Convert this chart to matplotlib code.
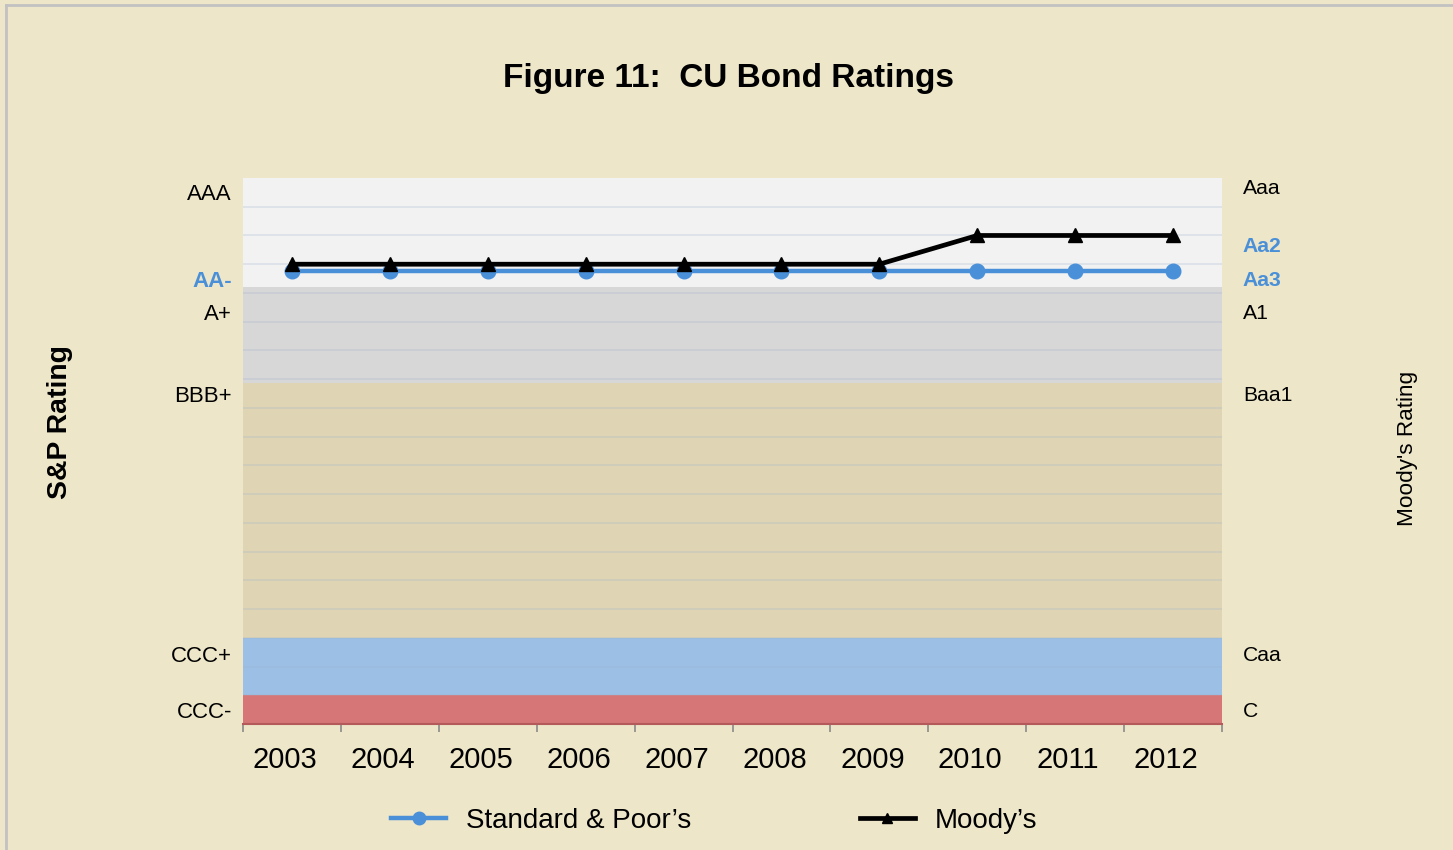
import matplotlib
matplotlib.use("Agg")
import matplotlib.pyplot as plt
from matplotlib.lines import Line2D
from matplotlib.transforms import ScaledTranslation

plt.rcParams['font.family'] = ['Liberation Sans', 'DejaVu Sans']

# ---- data ----
years = ['2003', '2004', '2005', '2006', '2007', '2008', '2009', '2010', '2011', '2012']
sp_values = [15.75, 15.75, 15.75, 15.75, 15.75, 15.75, 15.75, 15.75, 15.75, 15.75]
moodys_values = [16, 16, 16, 16, 16, 16, 16, 17, 17, 17]

sp_tick_pos = [18.52, 15.49, 14.35, 11.49, 2.45, 0.50]
sp_tick_labels = ['AAA', 'AA-', 'A+', 'BBB+', 'CCC+', 'CCC-']
sp_highlight = ['AA-']

moodys_tick_pos = [18.70, 16.68, 15.49, 14.35, 11.49, 2.45, 0.50]
moodys_tick_labels = ['Aaa', 'Aa2', 'Aa3', 'A1', 'Baa1', 'Caa', 'C']
moodys_highlight = ['Aa2', 'Aa3']

band_lows = [0, 1, 3, 11.85, 15.2]
band_highs = [1, 3, 11.85, 15.2, 19]
band_colors = ['#d77676', '#9cc0e5', '#dfd5b5', '#d7d7d7', '#f2f2f2']

# ---- styling ----
BG = '#ede6c8'
BLUE = '#4a90d9'

fig = plt.figure(figsize=(14.53, 8.5), dpi=100, facecolor=BG)
W, H = 1453, 850
L, R, T, B = 243, 1222, 178, 724
ax = fig.add_axes([L / W, 1 - B / H, (R - L) / W, (B - T) / H])
ax.set_facecolor(BG)

for lo, hi, c in zip(band_lows, band_highs, band_colors):
    ax.axhspan(lo, hi, color=c, zorder=0, lw=0)

for g in range(1, 19):
    ax.axhline(g, color='#9fb2cc', alpha=0.28, lw=1.2, zorder=1)

x = list(range(len(years)))
ax.plot(x, sp_values, color=BLUE, lw=3.2, marker='o', markersize=10.5, zorder=3)
ax.plot(x, moodys_values, color='black', lw=3.4, marker='^', markersize=10, zorder=4)

ax.set_xlim(-0.5, len(years) - 0.5)
ax.set_ylim(0, 19)

# x ticks: marks at boundaries, labels at centres
ax.set_xticks([i - 0.5 for i in range(len(years) + 1)])
ax.set_xticklabels([])
ax.tick_params(axis='x', which='major', length=6, width=1.2, color='#8a8a8a', direction='out')
ax.set_xticks(x, minor=True)
ax.set_xticklabels(years, minor=True, fontsize=21)
ax.tick_params(axis='x', which='minor', length=0, pad=16)
for lab in ax.get_xticklabels(minor=True):
    lab.set_transform(lab.get_transform() + ScaledTranslation(-0.07, 0, fig.dpi_scale_trans))

for s in ['top', 'right', 'left']:
    ax.spines[s].set_visible(False)
ax.spines['bottom'].set_color('#b45a5a')
ax.spines['bottom'].set_linewidth(1.5)

# left labels
ax.set_yticks(sp_tick_pos)
ax.set_yticklabels(sp_tick_labels, fontsize=16)
ax.tick_params(axis='y', which='both', length=0, pad=8)
for lab in ax.get_yticklabels():
    if lab.get_text() in sp_highlight:
        lab.set_color(BLUE)
        lab.set_fontweight('bold')

# right labels
ax2 = ax.twinx()
ax2.set_ylim(0, 19)
ax2.set_yticks(moodys_tick_pos)
ax2.set_yticklabels(moodys_tick_labels, fontsize=15.2)
ax2.tick_params(axis='y', length=0, pad=15)
for s in ax2.spines.values():
    s.set_visible(False)
for lab in ax2.get_yticklabels():
    if lab.get_text() in moodys_highlight:
        lab.set_color(BLUE)
        lab.set_fontweight('bold')

# titles / axis names
fig.text(728.5 / W, 1 - 78 / H, 'Figure 11:  CU Bond Ratings', ha='center', va='center',
         fontsize=24, fontweight='bold')
fig.text(60 / W, 1 - 422 / H, 'S&P Rating', rotation=90, ha='center', va='center',
         fontsize=20.4, fontweight='bold')
fig.text(1407 / W, 1 - 448 / H, "Moody's Rating", rotation=90, ha='center', va='center',
         fontsize=16.2)

# legends
h1 = Line2D([], [], color=BLUE, lw=3.2, marker='o', markersize=9)
h2 = Line2D([], [], color='black', lw=3.4, marker='^', markersize=7)
leg1 = fig.legend([h1], ['Standard & Poor\u2019s'], loc='center left',
                  bbox_to_anchor=(391 / W, 1 - 821 / H), frameon=False, fontsize=20,
                  handlelength=1.98, handletextpad=0.72, borderpad=0, borderaxespad=0)
leg2 = fig.legend([h2], ['Moody\u2019s'], loc='center left',
                  bbox_to_anchor=(860 / W, 1 - 821 / H), frameon=False, fontsize=20,
                  handlelength=1.98, handletextpad=0.72, borderpad=0, borderaxespad=0)

# frame border (top & left)
fig.add_artist(Line2D([6 / W, 6 / W], [0, 1 - 5 / H], transform=fig.transFigure,
                      color='#c2c2c2', lw=2))
fig.add_artist(Line2D([6 / W, 1], [1 - 5 / H, 1 - 5 / H], transform=fig.transFigure,
                      color='#c2c2c2', lw=2))

fig.savefig('out.png', dpi=100, facecolor=BG)
